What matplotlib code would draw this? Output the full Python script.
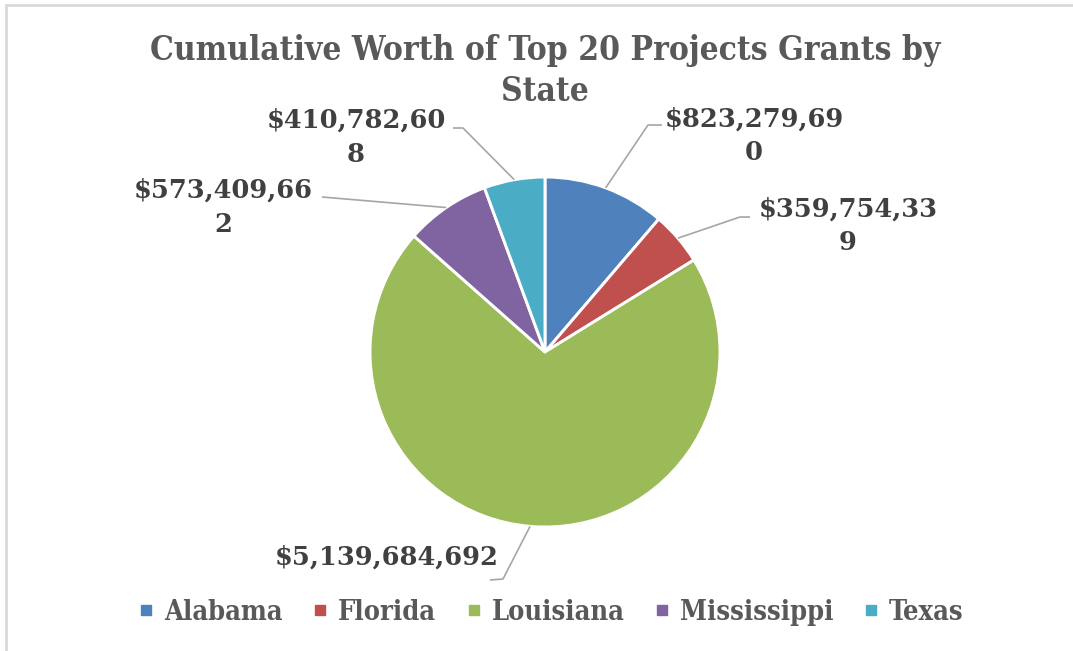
import numpy as np
import matplotlib
matplotlib.use("Agg")
import matplotlib.pyplot as plt
from matplotlib.lines import Line2D

states = ["Alabama", "Florida", "Louisiana", "Mississippi", "Texas"]
grants = [823279690, 359754339, 5139684692, 573409662, 410782608]
label_texts = ["$823,279,69\n0", "$359,754,33\n9", "$5,139,684,692",
               "$573,409,66\n2", "$410,782,60\n8"]
colors = ["#4F81BD", "#C0504D", "#9BBB59", "#8064A2", "#4BACC6"]

W, H = 1073, 651
# label layout in pixel coords (x, y from top): text centre, leader elbow, leader end
text_pos = [(754, 136), (848, 226), (387, 557), (223, 207), (356, 137)]
elbows = [(648, 125), (740, 217), (503, 579), (322, 197), (463, 128)]
ends = [(662, 125), (750, 217), (490, 580), (322, 197), (453, 128)]

fig = plt.figure(figsize=(W / 100, H / 100), dpi=100)
ax = fig.add_axes([0, 0, 1, 1])

cx, cy, r = 545, H - 352, 175
wedges, _ = ax.pie(grants, colors=colors, startangle=90, counterclock=False,
                   center=(cx, cy), radius=r, frame=True,
                   wedgeprops=dict(edgecolor="white", linewidth=2.1))
ax.set_xlim(0, W)
ax.set_ylim(0, H)
ax.axis("off")

lead_col = "#A6A6A6"
for w, txt, tp, el, en in zip(wedges, label_texts, text_pos, elbows, ends):
    mid = np.deg2rad((w.theta1 + w.theta2) / 2)
    sx = cx + r * np.cos(mid)
    sy = cy + r * np.sin(mid)
    ax.plot([sx, el[0], en[0]], [sy, H - el[1], H - en[1]], color=lead_col,
            lw=1.2, solid_capstyle="butt", zorder=1)
    ax.text(tp[0], H - tp[1], txt, ha="center", va="center", fontsize=18.5,
            fontweight="bold", family="DejaVu Serif", color="#404040",
            linespacing=1.45)

ax.text(545, H - 71, "Cumulative Worth of Top 20 Projects Grants by\nState",
        ha="center", va="center", fontsize=24, fontweight="bold",
        family="DejaVu Serif", fontstretch="condensed", color="#595959",
        linespacing=1.32)

handles = [Line2D([], [], marker="s", ls="", markersize=7, color=c) for c in colors]
fig.legend(handles, states, loc="center", bbox_to_anchor=(551 / W, 1 - 612 / H),
           ncol=5, frameon=False, handlelength=0.6, handletextpad=0.35,
           columnspacing=1.1,
           prop=dict(family="DejaVu Serif", weight="bold", stretch="condensed", size=19.5),
           labelcolor="#595959")

# chart-area border (left and top edges visible)
fig.add_artist(Line2D([6 / W, 6 / W], [0, 1 - 5 / H], color="#D9D9D9", lw=2))
fig.add_artist(Line2D([6 / W, 1], [1 - 5 / H, 1 - 5 / H], color="#D9D9D9", lw=2))

fig.savefig("out.png", dpi=100, facecolor="white")
